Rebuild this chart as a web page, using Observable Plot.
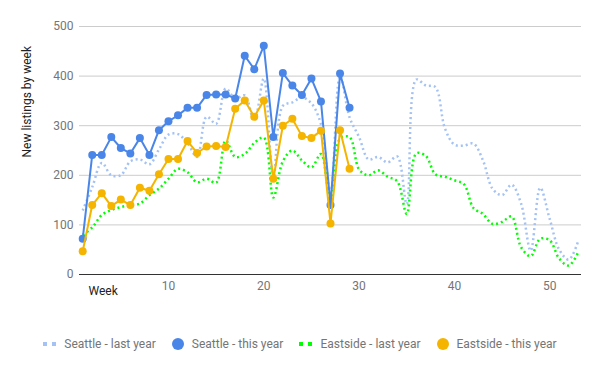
<!DOCTYPE html>
<html>
<head>
<meta charset="utf-8">
<script src="https://cdn.jsdelivr.net/npm/d3@7"></script>
<script src="https://cdn.jsdelivr.net/npm/@observablehq/plot@0.6"></script>
<style>
  body { margin: 0; background: #fff; font-family: Roboto, sans-serif; }
  #chart { width: 600px; height: 371px; }
  .legend { display: flex; justify-content: center; align-items: center; margin-top: 11px; height: 16px; font-size: 12px; color: #757575; font-family: Roboto, sans-serif; }
  .item { display: flex; align-items: center; margin: 0 8px; white-space: nowrap; }
  .item svg { margin-right: 8px; display: block; }
</style>
</head>
<body>
<div id="chart"></div>
<script>
const weeks = [1,2,3,4,5,6,7,8,9,10,11,12,13,14,15,16,17,18,19,20,21,22,23,24,25,26,27,28,29,30,31,32,33,34,35,36,37,38,39,40,41,42,43,44,45,46,47,48,49,50,51,52,53];
const seattleLastYear = [129,176,225,200,200,228,232,222,252,282,283,265,237,318,304,375,355,361,310,395,195,340,347,357,345,303,165,401,317,277,232,237,226,238,142,393,381,378,295,262,260,264,230,173,160,181,143,48,175,112,50,30,68];
const eastsideLastYear = [80,95,120,130,136,140,143,160,173,193,213,206,186,193,185,270,237,243,265,276,155,228,250,230,216,243,148,274,277,212,200,210,197,188,122,244,239,202,197,190,182,134,122,102,106,117,55,37,72,69,32,18,45];
const seattleThisYear = [72,241,241,277,255,244,275,241,291,309,321,336,336,362,363,363,355,441,414,461,277,406,381,362,395,349,140,405,336];
const eastsideThisYear = [47,140,164,138,151,140,175,169,202,233,233,269,245,258,259,257,334,351,318,351,193,300,314,279,275,290,103,291,213];
const seriesNames = ["Seattle - last year", "Seattle - this year", "Eastside - last year", "Eastside - this year"];
const seriesColors = ["#a4c2f4", "#4a86e8", "#00ff00", "#f4b400"];
const xTicks = [10, 20, 30, 40, 50];
const yTicks = [0, 100, 200, 300, 400, 500];
const xLabel = "Week";
const yLabel = "New listings by week";

const toRows = (vals, name) => vals.map((v, i) => ({week: weeks[i], value: v, series: name}));
const sLast = toRows(seattleLastYear, seriesNames[0]);
const sThis = toRows(seattleThisYear, seriesNames[1]);
const eLast = toRows(eastsideLastYear, seriesNames[2]);
const eThis = toRows(eastsideThisYear, seriesNames[3]);

const chart = Plot.plot({
  width: 600,
  height: 325,
  marginLeft: 79,
  marginRight: 19,
  marginTop: 26,
  marginBottom: 51,
  style: {fontFamily: "Roboto, sans-serif", fontSize: "12px", background: "#fff", overflow: "visible"},
  x: {domain: [1, 53], insetLeft: 3.2, insetRight: 3.2},
  y: {domain: [0, 500]},
  marks: [
    Plot.gridY(yTicks, {stroke: "#cccccc", strokeOpacity: 1}),
    Plot.axisY(yTicks, {tickSize: 0, tickPadding: 6, fill: "#757575", label: null, fontSize: 12}),
    Plot.axisX(xTicks, {tickSize: 0, tickPadding: 7, fill: "#757575", label: null, fontSize: 12}),
    Plot.ruleY([0], {stroke: "#333333", strokeWidth: 1}),
    Plot.text([xLabel], {frameAnchor: "bottom-left", text: d => d, dx: 9, dy: 20, textAnchor: "start", fill: "#222", fontSize: 12}),
    Plot.text([yLabel], {frameAnchor: "left", text: d => d, rotate: -90, dx: -52, dy: 7, fill: "#222", fontSize: 12}),
    Plot.line(sLast, {x: "week", y: "value", stroke: seriesColors[0], strokeWidth: 2.5, strokeDasharray: "2,3", strokeLinecap: "butt", curve: "catmull-rom"}),
    Plot.line(eLast, {x: "week", y: "value", stroke: seriesColors[2], strokeWidth: 2.5, strokeDasharray: "2,3", strokeLinecap: "butt", curve: "catmull-rom"}),
    Plot.line(sThis, {x: "week", y: "value", stroke: seriesColors[1], strokeWidth: 2}),
    Plot.dot(sThis, {x: "week", y: "value", fill: seriesColors[1], r: 4}),
    Plot.line(eThis, {x: "week", y: "value", stroke: seriesColors[3], strokeWidth: 2}),
    Plot.dot(eThis, {x: "week", y: "value", fill: seriesColors[3], r: 4})
  ]
});

const root = document.getElementById("chart");
root.appendChild(chart);

const legend = document.createElement("div");
legend.className = "legend";
const ns = "http://www.w3.org/2000/svg";
seriesNames.forEach((name, i) => {
  const item = document.createElement("div");
  item.className = "item";
  const svg = document.createElementNS(ns, "svg");
  const dotted = i % 2 === 0;
  if (dotted) {
    svg.setAttribute("width", 13); svg.setAttribute("height", 4);
    [0, 9].forEach(px => {
      const r = document.createElementNS(ns, "rect");
      r.setAttribute("x", px); r.setAttribute("y", 0);
      r.setAttribute("width", 4); r.setAttribute("height", 4);
      r.setAttribute("fill", seriesColors[i]);
      svg.appendChild(r);
    });
  } else {
    svg.setAttribute("width", 12); svg.setAttribute("height", 12);
    const c = document.createElementNS(ns, "circle");
    c.setAttribute("cx", 6); c.setAttribute("cy", 6); c.setAttribute("r", 6);
    c.setAttribute("fill", seriesColors[i]);
    svg.appendChild(c);
  }
  item.appendChild(svg);
  const label = document.createElement("span");
  label.textContent = name;
  item.appendChild(label);
  legend.appendChild(item);
});
root.appendChild(legend);
</script>
</body>
</html>
